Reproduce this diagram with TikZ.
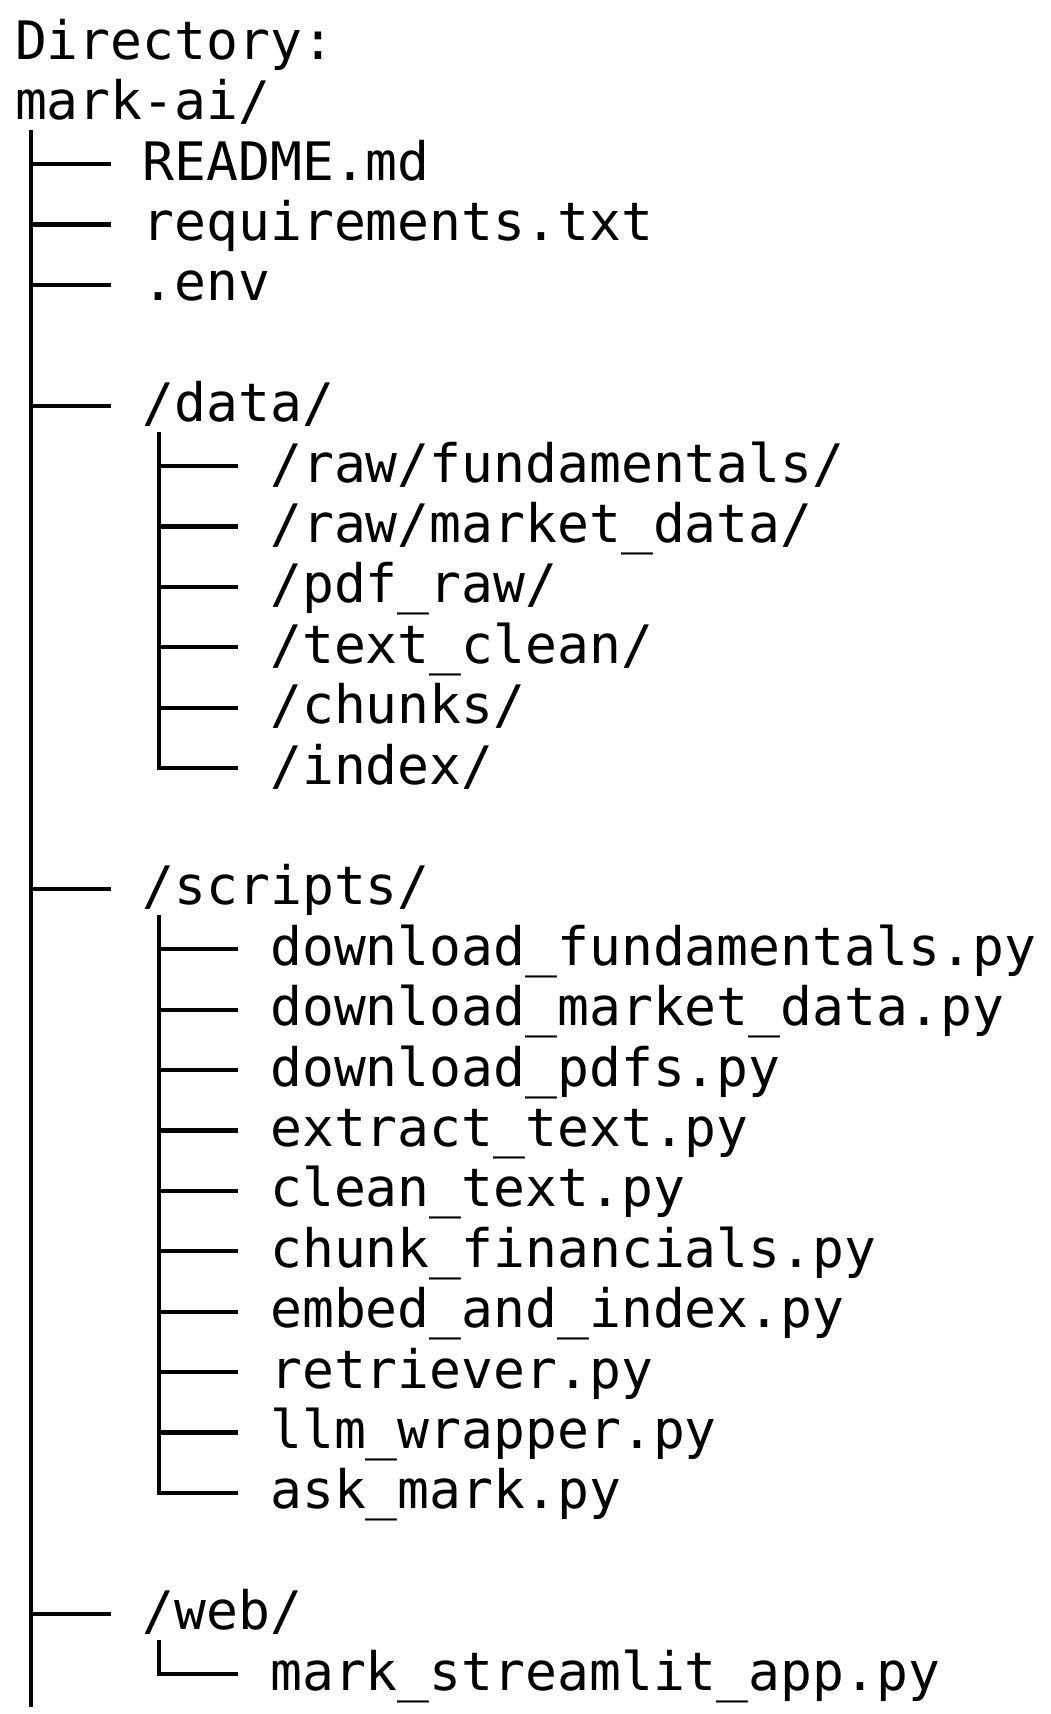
\documentclass[tikz,border=0pt]{standalone}
\usepackage{fontspec}
\newfontfamily\treefont{DejaVu Sans Mono}
\newcommand\treebranch[2]{%
  \path ([yshift=16pt]#2.base west) coordinate (#2-b);
  \draw[treeline] (#2-b -| #1) -- ([xshift=-31.9pt]#2-b);
}
\begin{document}
\begin{tikzpicture}[x=1pt,y=-1pt,
  entry/.style={anchor=base west, inner sep=0pt, outer sep=0pt,
    font=\treefont\fontsize{53}{60}\selectfont},
  treeline/.style={line width=4.2pt, black}]
\useasboundingbox[fill=white] (0,0) rectangle (1050,1714);

% column offsets
\def\colA{15}
\def\colB{142.6}
\def\colC{270.2}

\node[entry] (title) at (\colA,59.2) {Directory:};
\node[entry] (root) at (\colA,119.6) {mark-ai/};
\node[entry] (readme) at (\colB,180.0) {README.md};
\node[entry] (req) at (\colB,240.4) {requirements.txt};
\node[entry] (env) at (\colB,300.8) {.env};

\node[entry] (data) at (\colB,421.6) {/data/};
\node[entry] (fund) at (\colC,482.0) {/raw/fundamentals/};
\node[entry] (market) at (\colC,542.4) {/raw/market\_data/};
\node[entry] (pdfraw) at (\colC,602.8) {/pdf\_raw/};
\node[entry] (textclean) at (\colC,663.2) {/text\_clean/};
\node[entry] (chunks) at (\colC,723.6) {/chunks/};
\node[entry] (index) at (\colC,784.0) {/index/};

\node[entry] (scripts) at (\colB,904.8) {/scripts/};
\node[entry] (s1) at (\colC,965.2) {download\_fundamentals.py};
\node[entry] (s2) at (\colC,1025.6) {download\_market\_data.py};
\node[entry] (s3) at (\colC,1086.0) {download\_pdfs.py};
\node[entry] (s4) at (\colC,1146.4) {extract\_text.py};
\node[entry] (s5) at (\colC,1206.8) {clean\_text.py};
\node[entry] (s6) at (\colC,1267.2) {chunk\_financials.py};
\node[entry] (s7) at (\colC,1327.6) {embed\_and\_index.py};
\node[entry] (s8) at (\colC,1388.0) {retriever.py};
\node[entry] (s9) at (\colC,1448.4) {llm\_wrapper.py};
\node[entry] (s10) at (\colC,1508.8) {ask\_mark.py};

\node[entry] (web) at (\colB,1629.6) {/web/};
\node[entry] (app) at (\colC,1690.0) {mark\_streamlit\_app.py};

% trunk
\coordinate (trunkTop) at (31,130);
\coordinate (trunkBot) at (31,1707);
\draw[treeline] (trunkTop) -- (trunkBot);
\foreach \n in {readme,req,env,data,scripts,web}{\treebranch{trunkTop}{\n}}

% data subtree
\coordinate (dataTop) at (158.6,432);
\foreach \n in {fund,market,pdfraw,textclean,chunks}{\treebranch{dataTop}{\n}}
\path ([yshift=16pt]index.base west) coordinate (index-b);
\draw[treeline] (dataTop) |- ([xshift=-31.9pt]index-b);

% scripts subtree
\coordinate (scriptsTop) at (158.6,915.2);
\foreach \n in {s1,s2,s3,s4,s5,s6,s7,s8,s9}{\treebranch{scriptsTop}{\n}}
\path ([yshift=16pt]s10.base west) coordinate (s10-b);
\draw[treeline] (scriptsTop) |- ([xshift=-31.9pt]s10-b);

% web subtree
\coordinate (webTop) at (158.6,1640);
\path ([yshift=16pt]app.base west) coordinate (app-b);
\draw[treeline] (webTop) |- ([xshift=-31.9pt]app-b);
\end{tikzpicture}
\end{document}
